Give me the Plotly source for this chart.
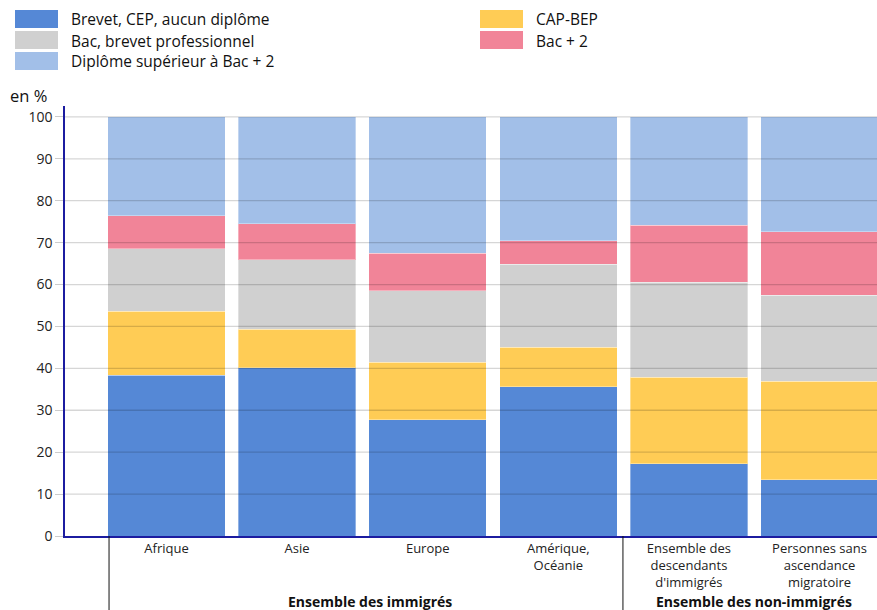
import plotly.graph_objects as go

# Niveau de diplôme selon l'origine (en %)
categories = ["Afrique", "Asie", "Europe", "Amérique,<br>Océanie",
              "Ensemble des<br>descendants<br>d'immigrés",
              "Personnes sans<br>ascendance<br>migratoire"]

series_names = ["Brevet, CEP, aucun diplôme", "CAP-BEP", "Bac, brevet professionnel",
                "Bac + 2", "Diplôme supérieur à Bac + 2"]

brevet_cep = [38.3, 40.1, 27.7, 35.6, 17.2, 13.4]
cap_bep = [15.3, 9.2, 13.8, 9.4, 20.7, 23.5]
bac_pro = [14.9, 16.6, 17.0, 19.8, 22.6, 20.5]
bac_2 = [7.9, 8.6, 9.0, 5.6, 13.7, 15.2]
sup_bac_2 = [23.6, 25.5, 32.5, 29.6, 25.8, 27.4]

series_values = [brevet_cep, cap_bep, bac_pro, bac_2, sup_bac_2]
colors = ["#5588D6", "#FFCC55", "#D0D0D0", "#F18498", "#A2BFE8"]

group_labels = ["Ensemble des immigrés", "Ensemble des non-immigrés"]
y_ticks = [0, 10, 20, 30, 40, 50, 60, 70, 80, 90, 100]

W, H = 877, 610
ML, MT, MB, MR = 65, 106, 74, 0
PW, PH = W - ML - MR, H - MT - MB


def px(xp):
    return (xp - ML) / PW


def py(yp):
    return (H - MB - yp) / PH


FONT = "Open Sans"
x_pos = list(range(len(categories)))

fig = go.Figure()
for name, vals, col in zip(series_names, series_values, colors):
    fig.add_trace(go.Bar(
        x=x_pos, y=vals, name=name, width=0.9,
        marker=dict(color=col, line=dict(color="rgba(255,255,255,0.35)", width=1)),
        showlegend=False,
    ))

shapes = []
# horizontal grid drawn over the bars
for t in y_ticks[1:]:
    shapes.append(dict(type="line", xref="paper", yref="y", x0=0, x1=1, y0=t, y1=t,
                       line=dict(color="rgba(0,0,0,0.16)", width=1.3), layer="above"))
# group separators under the category axis
for xs in [-0.44, 3.495]:
    shapes.append(dict(type="line", xref="x", yref="paper", x0=xs, x1=xs, y0=0, y1=-0.2,
                       line=dict(color="#111111", width=1)))

annotations = []
# custom legend (two columns)
legend_layout = [(15, 10), (480, 10), (15, 31), (480, 31), (15, 52)]
for (lx, ly), name, col in zip(legend_layout, series_names, colors):
    shapes.append(dict(type="rect", xref="paper", yref="paper",
                       x0=px(lx), x1=px(lx + 43), y0=py(ly), y1=py(ly + 18),
                       fillcolor=col, line=dict(width=0)))
    annotations.append(dict(xref="paper", yref="paper", x=px(lx + 54), y=py(ly + 9.5),
                            text=name, showarrow=False, xanchor="left", yanchor="middle",
                            font=dict(family=FONT, size=15.5, color="#111111")))

annotations.append(dict(xref="paper", yref="paper", x=px(8), y=py(96), text="en %",
                        showarrow=False, xanchor="left", yanchor="middle",
                        font=dict(family=FONT, size=16.5, color="#111111")))

for gx, label in zip([1.555, 4.5], group_labels):
    annotations.append(dict(xref="x", yref="paper", x=gx, y=py(601), text="<b>" + label + "</b>",
                            showarrow=False, xanchor="center", yanchor="middle",
                            font=dict(family=FONT, size=14, color="#111111")))

fig.update_layout(
    barmode="stack",
    width=W, height=H,
    margin=dict(l=ML, r=MR, t=MT, b=MB, pad=0),
    paper_bgcolor="white", plot_bgcolor="white",
    font=dict(family=FONT, size=13, color="#222222"),
    shapes=shapes, annotations=annotations,
    xaxis=dict(range=[(ML - 166.5) / 130.6, (W - 166.5) / 130.6],
               tickmode="array", tickvals=x_pos, ticktext=categories,
               showgrid=False, zeroline=False, showline=True, linecolor="#1c1ca0", linewidth=1.5,
               ticks="", tickfont=dict(family=FONT, size=13, color="#222222")),
    yaxis=dict(range=[0, 102.6], tickmode="array", tickvals=y_ticks,
               showgrid=False, zeroline=False, showline=True, linecolor="#1c1ca0", linewidth=1.5,
               ticks="outside", ticklen=8, tickcolor="#cccccc", tickwidth=1.3,
               tickfont=dict(family=FONT, size=14, color="#222222")),
)

fig.write_html("out.html")
